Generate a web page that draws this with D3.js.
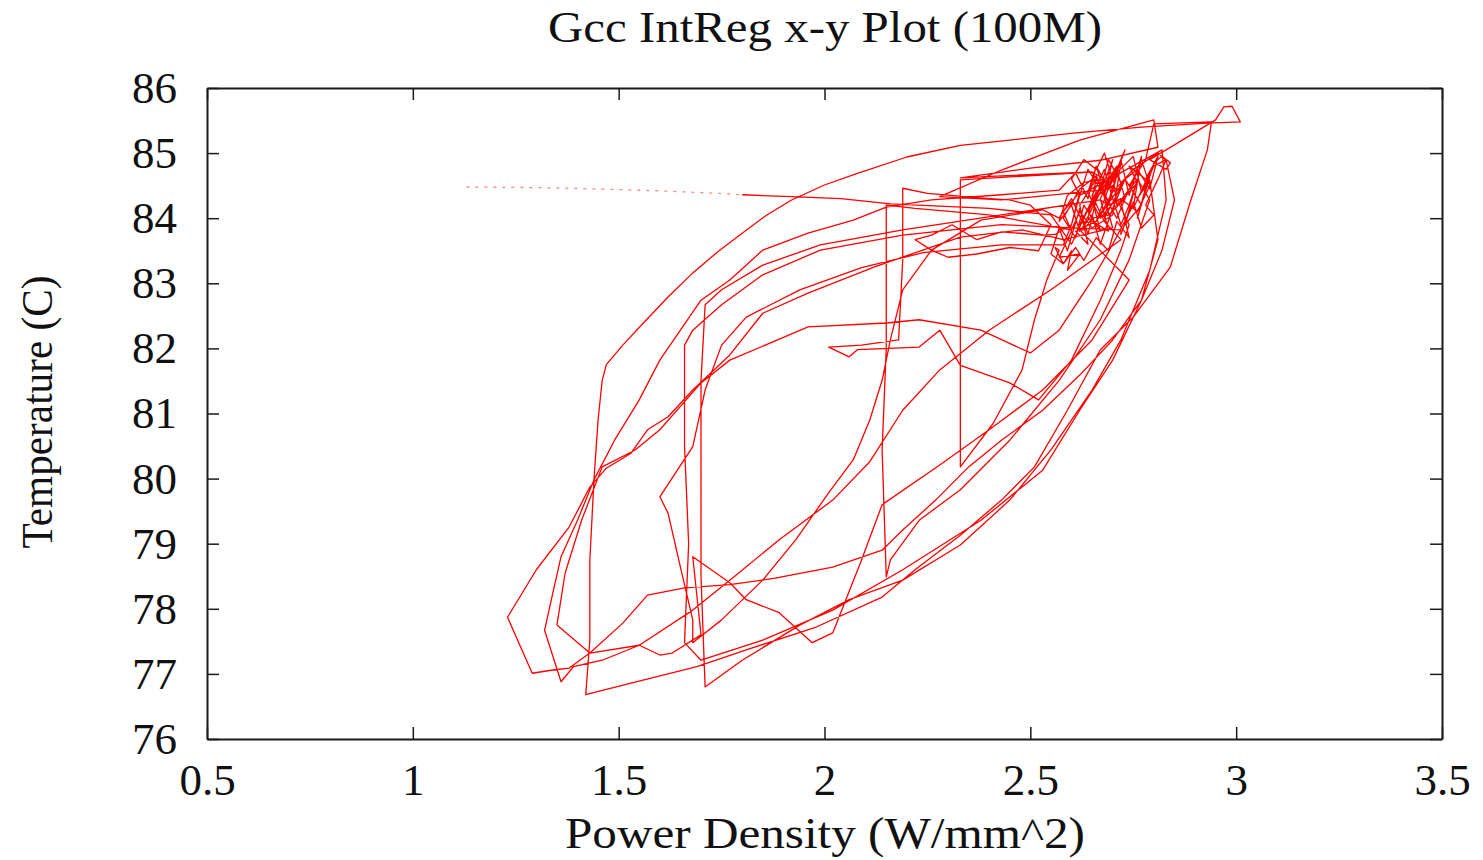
<!DOCTYPE html>
<html>
<head>
<meta charset="utf-8">
<script src="https://cdn.jsdelivr.net/npm/d3@7"></script>
<style>
  html, body { margin: 0; padding: 0; background: #fff; }
  .chart-xy text { font-family: "Liberation Serif", "Times New Roman", serif; fill: #111; }
  .chart-xy__axis path, .chart-xy__axis line { stroke: #1a1a1a; }
</style>
</head>
<body>
<div id="chart"></div>
<script>
// ---- data ------------------------------------------------------------
const title = "Gcc IntReg x-y Plot (100M)";
const xLabel = "Power Density (W/mm^2)";
const yLabel = "Temperature (C)";
const xTicks = [0.5, 1, 1.5, 2, 2.5, 3, 3.5];
const yTicks = [76, 77, 78, 79, 80, 81, 82, 83, 84, 85, 86];

// faint dotted start of the trace
const tail = [[1.13,84.48],[1.30,84.47],[1.45,84.45],[1.60,84.42],[1.75,84.38],[1.80,84.36]];
const lead = [[1.80,84.36],[1.92,84.33],[2.04,84.30],[2.16,84.22],[2.40,84.15],[2.55,84.05]];

const cluster1 = [[2.60,83.6],[2.66,84.4],[2.62,83.9],[2.69,84.7],[2.64,84.1],[2.71,84.8],[2.66,83.95],[2.73,84.6],[2.68,84.0],[2.70,84.5],[2.65,84.3],[2.67,83.8],[2.63,84.2],[2.61,83.7],[2.58,84.0],[2.62,84.45],[2.66,84.65],[2.69,84.25],[2.72,84.9],[2.74,84.35],[2.77,84.95],[2.75,84.15],[2.79,84.7],[2.76,84.0],[2.80,84.85],[2.82,84.95],[2.84,84.85],[2.83,84.75],[2.79,84.9],[2.83,85.05]];
const loopA = [[2.95,85.51],[2.97,85.71],[2.99,85.72],[3.01,85.48],[2.93,85.46],[2.77,85.40],[2.61,85.31],[2.45,85.20],[2.33,85.12],[2.20,84.94],[2.08,84.69],[2.00,84.51],[1.92,84.28],[1.86,84.05],[1.80,83.77],[1.74,83.48],[1.68,83.16],[1.62,82.79],[1.56,82.39],[1.51,82.05],[1.47,81.75],[1.46,81.51],[1.45,80.90],[1.44,79.98],[1.43,78.75],[1.43,77.52],[1.42,76.68],[1.53,76.86],[1.69,77.11],[1.81,77.37],[1.98,77.72],[2.14,78.18],[2.22,78.60],[2.33,79.13],[2.43,79.67],[2.51,80.18],[2.59,81.05],[2.67,81.98],[2.75,82.48],[2.84,83.25],[2.89,84.28],[2.93,85.05],[2.94,85.48]];
const cluster2 = [[2.80,85.45],[2.78,84.9],[2.74,84.5],[2.77,84.2],[2.73,83.9],[2.76,84.6],[2.71,84.2],[2.70,84.7],[2.67,84.3],[2.69,83.8],[2.64,84.0],[2.66,84.6],[2.62,84.2],[2.64,83.6],[2.61,83.8],[2.66,83.95],[2.70,84.4],[2.75,84.75],[2.81,85.0]];
const loopB = [[2.83,84.89],[2.85,84.28],[2.82,83.51],[2.77,82.74],[2.70,82.13],[2.62,81.59],[2.53,81.05],[2.43,80.59],[2.35,80.18],[2.27,79.67],[2.19,79.21],[2.14,78.90],[2.02,78.64],[1.88,78.47],[1.77,78.37],[1.66,78.32],[1.57,78.21],[1.51,77.78],[1.43,77.32],[1.38,77.09],[1.34,77.06],[1.29,77.01],[1.23,77.87],[1.30,78.60],[1.38,79.26],[1.43,79.87],[1.47,80.16],[1.53,80.39],[1.57,80.75],[1.62,80.95],[1.68,81.36],[1.77,81.90],[1.85,82.54],[1.96,82.85],[2.12,83.25],[2.33,83.71],[2.48,83.82],[2.58,83.67]];
const cluster3 = [[2.70,83.85],[2.67,84.55],[2.64,83.75],[2.62,84.15],[2.59,83.5],[2.57,83.85],[2.55,83.45],[2.58,83.3],[2.61,83.55],[2.63,83.35],[2.66,83.7],[2.69,83.5],[2.71,83.95],[2.74,83.7],[2.72,84.25],[2.76,84.55],[2.74,84.8],[2.78,84.6],[2.81,84.95],[2.79,84.45],[2.76,84.75],[2.72,84.55],[2.69,84.9],[2.67,84.45],[2.64,84.75],[2.62,84.35],[2.60,83.9]];
const loopC = [[2.58,83.59],[2.43,83.59],[2.24,83.47],[2.09,83.24],[1.94,82.90],[1.81,82.48],[1.75,82.05],[1.71,81.36],[1.68,80.49],[1.60,79.72],[1.62,79.47],[1.65,78.64],[1.68,77.83],[1.68,77.48],[1.75,77.83],[1.85,78.44],[1.93,79.06],[2.01,79.78],[2.07,80.29],[2.11,80.90],[2.14,81.51],[2.16,82.13],[2.19,82.90],[2.26,83.51],[2.38,83.97],[2.53,84.13]];
const cluster4 = [[2.57,84.0],[2.60,84.3],[2.63,83.9],[2.67,84.4],[2.70,84.9],[2.68,84.35],[2.71,84.0],[2.74,84.45],[2.77,84.9],[2.79,84.5],[2.76,84.1],[2.72,84.3],[2.69,84.2]];
const loopD = [[2.67,84.28],[2.43,84.05],[2.19,83.82],[1.99,83.59],[1.85,83.28],[1.75,82.90],[1.71,82.67],[1.70,81.5],[1.70,80.0],[1.70,78.5],[1.71,76.80],[1.80,77.21],[1.94,77.75],[2.06,78.14],[2.19,78.44],[2.33,78.98],[2.45,79.67],[2.55,80.44],[2.65,81.36],[2.72,82.13],[2.79,83.20],[2.83,84.28],[2.82,85.05]];
const cluster5 = [[2.62,84.35],[2.60,84.6],[2.63,84.9],[2.66,84.75],[2.68,85.0],[2.70,84.6],[2.73,85.05],[2.71,84.7],[2.75,84.95],[2.77,84.4],[2.80,84.8],[2.83,84.9],[2.81,84.6],[2.78,84.2],[2.80,84.05],[2.77,83.85],[2.75,84.25],[2.72,83.75]];
const loopE = [[2.72,83.82],[2.43,83.90],[2.19,83.74],[1.99,83.51],[1.85,83.13],[1.75,82.67],[1.68,82.28],[1.66,82.05],[1.66,80.5],[1.67,79.0],[1.66,77.48],[1.70,77.21],[1.85,77.52],[2.02,77.98],[2.19,78.60],[2.38,79.36],[2.53,80.13],[2.62,81.05],[2.70,81.82],[2.77,82.74],[2.81,83.67],[2.79,84.59]];
const cluster6 = [[2.76,84.3],[2.73,84.6],[2.70,84.15],[2.67,83.6],[2.65,84.05],[2.62,83.8],[2.60,84.2],[2.57,83.95],[2.59,84.35],[2.63,84.55],[2.68,84.6]];
const loopF = [[2.65,84.71],[2.33,84.59],[2.33,83.36],[2.33,81.98],[2.33,80.18],[2.41,80.85],[2.48,81.67],[2.51,82.44],[2.54,83.05],[2.57,83.51]];
const cluster7 = [[2.56,83.55],[2.58,83.3],[2.60,83.5],[2.59,83.2],[2.62,83.45],[2.57,83.4],[2.60,83.8],[2.58,84.1],[2.62,84.4],[2.60,83.9],[2.56,83.75]];
const loopG = [[2.53,83.74],[2.43,83.79],[2.37,83.67],[2.31,83.90],[2.26,83.74],[2.22,83.67],[2.26,83.51],[2.30,83.40],[2.37,83.45],[2.45,83.55],[2.52,83.5],[2.55,83.9],[2.50,84.2],[2.45,84.28],[2.40,84.30],[2.25,84.38],[2.19,84.46],[2.19,83.36],[2.18,82.13],[2.09,82.05],[2.01,82.02],[2.06,81.87],[2.08,81.98],[2.23,82.02],[2.28,82.28],[2.33,81.74],[2.45,81.47],[2.52,81.21],[2.60,81.82],[2.67,82.74],[2.72,83.51]];
const cluster8 = [[2.74,83.9],[2.71,84.3],[2.67,84.0],[2.64,84.4],[2.66,84.8],[2.69,84.45],[2.72,84.85],[2.70,84.05],[2.65,83.85],[2.62,84.1]];
const loopH = [[2.60,83.82],[2.40,84.05],[2.22,84.15],[2.15,84.20],[2.15,82.0],[2.14,80.44],[2.15,78.49],[2.16,78.75],[2.23,79.36],[2.33,79.83],[2.45,80.59],[2.57,81.51],[2.67,82.44],[2.74,83.36],[2.79,84.28]];
const cluster9 = [[2.76,84.6],[2.74,84.2],[2.72,83.9],[2.70,84.3],[2.68,84.75],[2.65,84.35],[2.68,83.95]];
const loopI = [[2.72,83.67],[2.55,82.90],[2.40,82.28],[2.28,81.67],[2.19,81.05],[2.11,80.26],[2.02,79.67],[1.89,79.06],[1.77,78.44],[1.68,77.98],[1.55,77.44],[1.46,77.21],[1.39,77.11],[1.36,76.88],[1.32,77.67],[1.34,78.24],[1.36,78.80],[1.40,79.36],[1.44,79.98],[1.49,80.59],[1.55,81.21],[1.60,81.82],[1.70,82.74],[1.77,83.05],[1.85,83.51],[1.96,83.77],[2.07,83.97],[2.15,84.17],[2.26,84.28],[2.43,84.36],[2.57,84.43]];
const cluster10 = [[2.61,84.7],[2.64,84.3],[2.66,84.8],[2.69,84.2],[2.71,84.65]];
const loopK = [[2.67,84.43],[2.43,84.28],[2.28,84.33],[2.43,84.74],[2.62,85.20],[2.80,85.51],[2.81,85.09],[2.67,84.89],[2.50,84.77],[2.33,84.62],[2.43,84.65],[2.65,84.71]];
const cluster11 = [[2.68,84.4],[2.71,84.75],[2.73,84.3],[2.69,84.05],[2.65,84.0],[2.63,83.82]];
const loopJ = [[2.62,83.82],[2.74,83.05],[2.65,82.13],[2.53,81.36],[2.40,80.75],[2.28,80.21],[2.14,79.60],[2.09,78.75],[2.02,77.63],[1.97,77.48],[1.89,77.94],[1.81,78.14],[1.77,78.40],[1.68,78.80],[1.70,77.60],[1.63,77.32],[1.60,77.29],[1.55,77.44],[1.43,77.32],[1.35,77.75],[1.37,78.55],[1.41,79.36],[1.46,80.18],[1.54,80.44],[1.60,80.75],[1.70,81.47],[1.77,81.82],[1.96,82.33],[2.15,82.39],[2.23,82.44],[2.38,82.28],[2.50,81.93],[2.57,82.28],[2.65,83.05],[2.70,83.6],[2.75,84.2]];

const trace = [lead, cluster1, loopA, cluster2, loopB, cluster3, loopC, cluster4, loopD,
  cluster5, loopE, cluster6, loopF, cluster7, loopG, cluster8, loopH, cluster9, loopI,
  cluster10, loopK, cluster11, loopJ].flat();

// ---- chart ------------------------------------------------------------
const settings = {
  width: 1483, height: 860,
  margins: { left: 207, right: 41, top: 88, bottom: 121 },
  tickLen: 12,
  fontSize: 45,
};

const { width, height, margins, tickLen, fontSize } = settings;
const boundWidth = width - margins.left - margins.right;
const boundHeight = height - margins.top - margins.bottom;

const svg = d3.select('#chart').append('svg')
  .classed('chart-xy', true)
  .attr('width', width).attr('height', height);

svg.append('rect').attr('width', width).attr('height', height).attr('fill', '#fff');

const bound = svg.append('g')
  .attr('transform', `translate(${margins.left},${margins.top})`);

const xScale = d3.scaleLinear().domain([0.5, 3.5]).range([0, boundWidth]);
const yScale = d3.scaleLinear().domain([76, 86]).range([boundHeight, 0]);

// data line under the frame
const line = d3.line().x(d => xScale(d[0])).y(d => yScale(d[1]));

bound.append('path')
  .datum(tail)
  .attr('d', line)
  .attr('fill', 'none')
  .attr('stroke', '#ff2020')
  .attr('stroke-opacity', 0.55)
  .attr('stroke-width', 1.3)
  .attr('stroke-dasharray', '3,6');

bound.append('path')
  .datum(trace)
  .attr('d', line)
  .attr('fill', 'none')
  .attr('stroke', '#ff0000')
  .attr('stroke-width', 1.3)
  .attr('stroke-linejoin', 'round');

// axes: ticks point inward on all four sides
const styleAxis = (g) => {
  g.classed('chart-xy__axis', true);
  g.select('.domain').attr('stroke-width', 2);
  g.selectAll('.tick line').attr('stroke-width', 1.5);
  g.attr('font-family', null).attr('font-size', null);
  g.selectAll('text').attr('font-size', fontSize);
};

bound.append('g')
  .attr('transform', `translate(0,${boundHeight})`)
  .call(d3.axisBottom(xScale).tickValues(xTicks).tickFormat(d3.format('')).tickSize(-tickLen).tickSizeOuter(0).tickPadding(24))
  .call(styleAxis);

bound.append('g')
  .call(d3.axisTop(xScale).tickValues(xTicks).tickFormat('').tickSize(-tickLen).tickSizeOuter(0))
  .call(styleAxis);

bound.append('g')
  .call(d3.axisLeft(yScale).tickValues(yTicks).tickFormat(d3.format('d')).tickSize(-tickLen).tickSizeOuter(0).tickPadding(30))
  .call(styleAxis);

bound.append('g')
  .attr('transform', `translate(${boundWidth},0)`)
  .call(d3.axisRight(yScale).tickValues(yTicks).tickFormat('').tickSize(-tickLen).tickSizeOuter(0))
  .call(styleAxis);

// labels
svg.append('text')
  .attr('x', 825).attr('y', 42)
  .attr('text-anchor', 'middle')
  .attr('font-size', fontSize)
  .attr('textLength', 554).attr('lengthAdjust', 'spacingAndGlyphs')
  .text(title);

svg.append('text')
  .attr('x', 825).attr('y', 848)
  .attr('text-anchor', 'middle')
  .attr('font-size', fontSize)
  .attr('textLength', 520).attr('lengthAdjust', 'spacingAndGlyphs')
  .text(xLabel);

svg.append('text')
  .attr('transform', 'translate(52,412) rotate(-90)')
  .attr('text-anchor', 'middle')
  .attr('font-size', fontSize)
  .attr('textLength', 273).attr('lengthAdjust', 'spacingAndGlyphs')
  .text(yLabel);
</script>
</body>
</html>
